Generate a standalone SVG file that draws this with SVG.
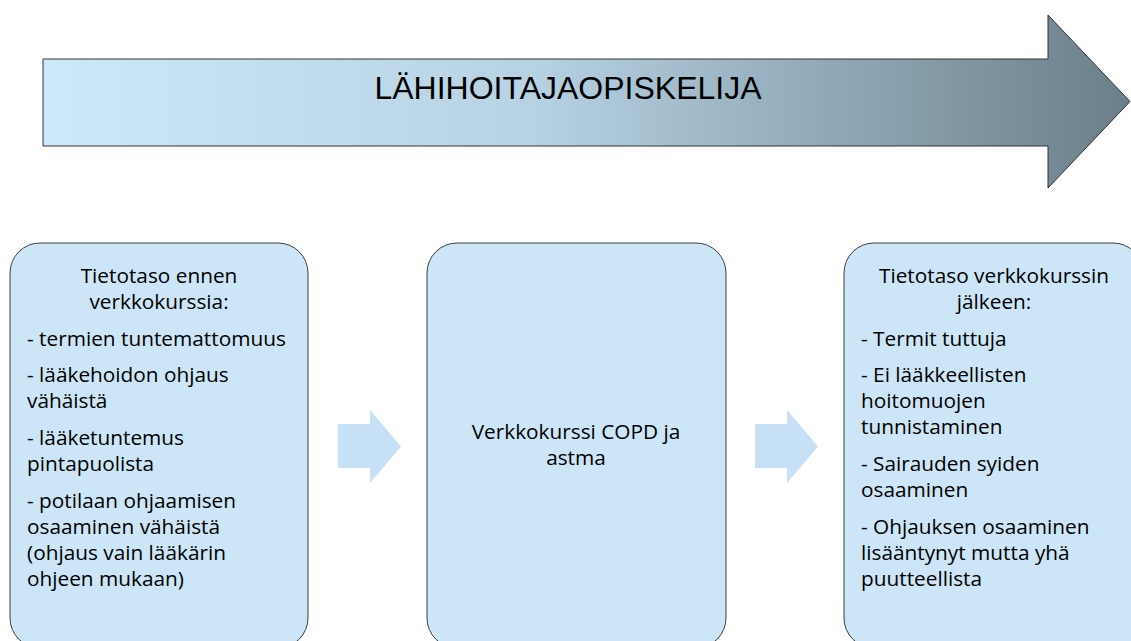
<svg xmlns="http://www.w3.org/2000/svg" width="1131" height="641" viewBox="0 0 1131 641">
<defs>
<linearGradient id="g" x1="43" y1="0" x2="1130" y2="0" gradientUnits="userSpaceOnUse">
<stop offset="0" stop-color="#cde8f9"/>
<stop offset="0.45" stop-color="#b6d2e3"/>
<stop offset="1" stop-color="#6b7f8a"/>
</linearGradient>
<style>
.box{fill:#cde6f7;stroke:#3c3c3c;stroke-width:1}
.t{font-family:"Open Sans",Lato,"Liberation Sans",sans-serif;font-size:20.8px;fill:#000}
.c{text-anchor:middle}
.sa{fill:#c6e0f5}
</style>
</defs>
<rect width="1131" height="641" fill="#fff"/>
<g id="banner">
<path d="M43 59 H1048 V15 L1130 101.5 L1048 188 V146 H43 Z" fill="url(#g)" stroke="#333" stroke-width="1"/>
<text x="568" y="99" font-family="'Liberation Sans',Arial,sans-serif" font-size="32" text-anchor="middle" fill="#000">LÄHIHOITAJAOPISKELIJA</text>
</g>
<g id="node-before">
<rect class="box" x="10" y="243" width="298" height="405" rx="30"/>
<text class="t c" x="159" y="283">Tietotaso ennen</text>
<text class="t c" x="159" y="309">verkkokurssia:</text>
<text class="t" x="27" y="346">- termien tuntemattomuus</text>
<text class="t" x="27" y="382">- lääkehoidon ohjaus</text>
<text class="t" x="27" y="408">vähäistä</text>
<text class="t" x="27" y="445">- lääketuntemus</text>
<text class="t" x="27" y="471">pintapuolista</text>
<text class="t" x="27" y="508">- potilaan ohjaamisen</text>
<text class="t" x="27" y="534">osaaminen vähäistä</text>
<text class="t" x="27" y="560">(ohjaus vain lääkärin</text>
<text class="t" x="27" y="586">ohjeen mukaan)</text>
</g>
<g id="node-course">
<rect class="box" x="427" y="243" width="299" height="405" rx="30"/>
<text class="t c" x="576" y="439">Verkkokurssi COPD ja</text>
<text class="t c" x="576" y="465">astma</text>
</g>
<g id="node-after">
<rect class="box" x="844" y="243" width="299" height="405" rx="30"/>
<text class="t c" x="994" y="283">Tietotaso verkkokurssin</text>
<text class="t c" x="994" y="309">jälkeen:</text>
<text class="t" x="861" y="346">- Termit tuttuja</text>
<text class="t" x="861" y="382">- Ei lääkkeellisten</text>
<text class="t" x="861" y="408">hoitomuojen</text>
<text class="t" x="861" y="434">tunnistaminen</text>
<text class="t" x="861" y="471">- Sairauden syiden</text>
<text class="t" x="861" y="497">osaaminen</text>
<text class="t" x="861" y="534">- Ohjauksen osaaminen</text>
<text class="t" x="861" y="560">lisääntynyt mutta yhä</text>
<text class="t" x="861" y="586">puutteellista</text>
</g>
<g id="connectors">
<path class="sa" d="M338 424 H370 V410 L401 446.5 L370 483 V468 H338 Z"/>
<path class="sa" d="M755 424 H787 V410 L818 446.5 L787 483 V468 H755 Z"/>
</g>
</svg>
